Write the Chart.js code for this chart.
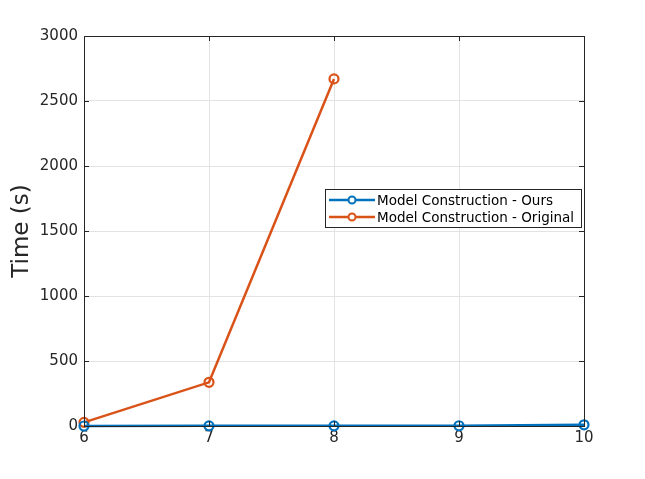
<!DOCTYPE html>
<html>
<head>
<meta charset="utf-8">
<script src="https://cdn.jsdelivr.net/npm/chart.js@4"></script>
<style>
    html, body { margin: 0; padding: 0; background: #fff; }
    #wrap { width: 645px; height: 479px; }
</style>
</head>
<body>
<div id="wrap"><canvas id="chart" width="645" height="479"></canvas></div>
<script>
const xValues = [6, 7, 8, 9, 10];
const oursTimes = [0, 1, 1, 2, 9];
const originalX = [6, 7, 8];
const originalTimes = [28, 336, 2670];
const xTicks = [6, 7, 8, 9, 10];
const yTicks = [0, 500, 1000, 1500, 2000, 2500, 3000];

const blue = "#0072BD";
const orange = "#D95319";
const axisColor = "#262626";
const fontFamily = "'DejaVu Sans', sans-serif";

function toPoints(xs, ys) {
    return xs.map(function (x, i) {
        return { x: x, y: ys[i] };
    });
}

// matlab style box, inward ticks and a boxed legend
const matlabBox = {
    id: "matlabBox",
    afterDraw: function (chart) {
        const ctx = chart.ctx;
        const a = chart.chartArea;
        const xs = chart.scales.x;
        const ys = chart.scales.y;
        ctx.save();
        ctx.strokeStyle = axisColor;
        ctx.lineWidth = 1;
        ctx.strokeRect(a.left + 0.5, a.top + 0.5, a.right - a.left, a.bottom - a.top);
        ctx.beginPath();
        xTicks.forEach(function (t) {
            const px = Math.round(xs.getPixelForValue(t)) + 0.5;
            ctx.moveTo(px, a.bottom);
            ctx.lineTo(px, a.bottom - 5);
            ctx.moveTo(px, a.top);
            ctx.lineTo(px, a.top + 5);
        });
        yTicks.forEach(function (t) {
            const py = Math.round(ys.getPixelForValue(t)) + 0.5;
            ctx.moveTo(a.left, py);
            ctx.lineTo(a.left + 5, py);
            ctx.moveTo(a.right, py);
            ctx.lineTo(a.right - 5, py);
        });
        ctx.stroke();

        // legend
        const lx = 325, ly = 189, lw = 256, lh = 38;
        ctx.fillStyle = "#fff";
        ctx.fillRect(lx, ly, lw, lh);
        ctx.strokeStyle = axisColor;
        ctx.strokeRect(lx + 0.5, ly + 0.5, lw, lh);
        ctx.font = "13.5px " + fontFamily;
        ctx.textBaseline = "middle";
        chart.data.datasets.forEach(function (ds, i) {
            const cy = ly + 11 + i * 17;
            ctx.strokeStyle = ds.borderColor;
            ctx.lineWidth = 2.5;
            ctx.beginPath();
            ctx.moveTo(lx + 4, cy);
            ctx.lineTo(lx + 50, cy);
            ctx.stroke();
            ctx.lineWidth = 2;
            ctx.beginPath();
            ctx.arc(lx + 27, cy, 3.5, 0, Math.PI * 2);
            ctx.fillStyle = "#fff";
            ctx.fill();
            ctx.stroke();
            ctx.fillStyle = "#000";
            ctx.fillText(ds.label, lx + 52, cy + 1);
        });
        ctx.restore();
    },
};

new Chart(document.getElementById("chart"), {
    type: "line",
    data: {
        datasets: [
            {
                label: "Model Construction - Ours",
                data: toPoints(xValues, oursTimes),
                borderColor: blue,
                backgroundColor: blue,
                borderWidth: 2.5,
                pointRadius: 4.5,
                pointBorderWidth: 2.2,
                pointBackgroundColor: "rgba(255,255,255,0)",
                pointBorderColor: blue,
                tension: 0,
            },
            {
                label: "Model Construction - Original",
                data: toPoints(originalX, originalTimes),
                borderColor: orange,
                backgroundColor: orange,
                borderWidth: 2.5,
                pointRadius: 4.5,
                pointBorderWidth: 2.2,
                pointBackgroundColor: "rgba(255,255,255,0)",
                pointBorderColor: orange,
                tension: 0,
            },
        ],
    },
    options: {
        responsive: false,
        animation: false,
        clip: false,
        layout: {
            padding: { left: 0, top: 36, right: 61, bottom: 0 },
        },
        plugins: {
            legend: { display: false },
            tooltip: { enabled: false },
        },
        scales: {
            x: {
                type: "linear",
                min: 6,
                max: 10,
                afterBuildTicks: function (scale) {
                    scale.ticks = xTicks.map(function (v) { return { value: v }; });
                },
                afterFit: function (scale) {
                    scale.height = 53;
                },
                grid: { color: "#e3e3e3", drawTicks: false },
                border: { display: false },
                ticks: {
                    color: axisColor,
                    padding: 3,
                    font: { family: fontFamily, size: 15 },
                    callback: function (v) { return String(v); },
                },
            },
            y: {
                min: 0,
                max: 3000,
                afterBuildTicks: function (scale) {
                    scale.ticks = yTicks.map(function (v) { return { value: v }; });
                },
                afterFit: function (scale) {
                    scale.width = 84;
                },
                grid: { color: "#e3e3e3", drawTicks: false },
                border: { display: false },
                ticks: {
                    color: axisColor,
                    padding: 6,
                    font: { family: fontFamily, size: 15 },
                    callback: function (v) { return String(v); },
                },
                title: {
                    display: true,
                    text: "Time (s)",
                    color: axisColor,
                    padding: { top: 8, bottom: 0 },
                    font: { family: fontFamily, size: 23 },
                },
            },
        },
    },
    plugins: [matlabBox],
});
</script>
</body>
</html>
